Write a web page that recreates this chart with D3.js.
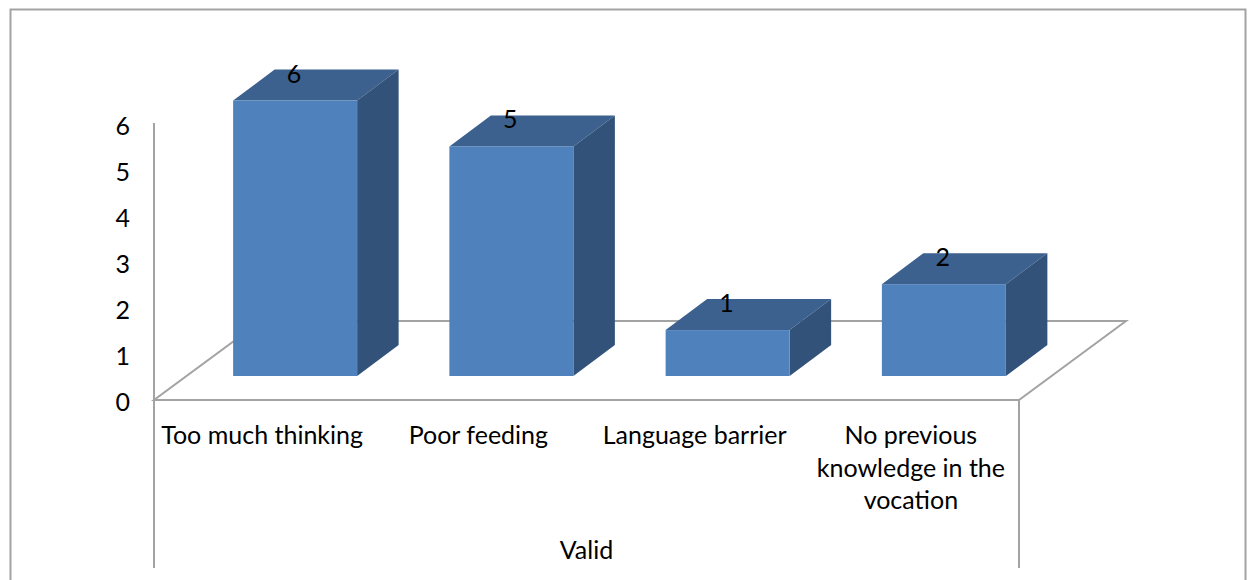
<!DOCTYPE html>
<html>
<head>
<meta charset="utf-8">
<script src="https://cdn.jsdelivr.net/npm/d3@7"></script>
<style>
  html, body { margin: 0; padding: 0; background: #fff; }
  svg { display: block; }
  text { font-family: Lato, "Open Sans", sans-serif; fill: #000; }
</style>
</head>
<body>
<div id="chart"></div>
<script>
const categories = ["Too much thinking", "Poor feeding", "Language barrier", "No previous knowledge in the vocation"];
const values = [6, 5, 1, 2];
const yTicks = [0, 1, 2, 3, 4, 5, 6];
const groupLabel = "Valid";

const width = 1249, height = 580;

// floor of the fake 3d box
const floorLeft = 154, floorRight = 1019, floorY = 400;
const wallDx = 107, wallDy = -79;
// bar sits a bit inside the floor, and has its own depth
const insetDx = 33, insetDy = -24;
const depthDx = 41.5, depthDy = -31;

const lineColor = "#a3a3a3";
const fontSize = "25px";

const svg = d3.select("#chart").append("svg")
  .attr("width", width)
  .attr("height", height);

// outer frame, bottom is cut off by the picture
svg.append("path")
  .attr("d", "M10.5,580V9.5H1245.5V580")
  .attr("fill", "none")
  .attr("stroke", lineColor)
  .attr("stroke-width", 2);

const x = d3.scaleBand()
  .domain(categories)
  .range([floorLeft, floorRight])
  .padding(0);

const barWidth = 124;

const y = d3.scaleLinear()
  .domain([0, 6])
  .range([floorY, 124.5]);

// floor and back edge
const floor = svg.append("g")
  .attr("fill", "none")
  .attr("stroke", lineColor)
  .attr("stroke-width", 2);

floor.append("path")
  .attr("d", `M${floorLeft},${floorY}L${floorRight},${floorY}L${floorRight + wallDx},${floorY + wallDy}L${floorLeft + wallDx},${floorY + wallDy}Z`);

// y axis line and category separators
floor.append("path")
  .attr("d", `M${floorLeft},123V568M${floorRight},${floorY}V568`);

const yAxis = d3.axisLeft(y)
  .tickValues(yTicks)
  .tickFormat(d3.format("d"))
  .tickSize(0)
  .tickPadding(24);

svg.append("g")
  .attr("transform", `translate(${floorLeft},2)`)
  .call(yAxis)
  .call(g => g.select(".domain").remove())
  .selectAll("text")
  .style("font-family", "Lato, 'Open Sans', sans-serif")
  .style("font-size", fontSize);

const barX = d => x(d) + x.bandwidth() / 2 + insetDx - barWidth / 2;

const bars = svg.selectAll(".bar")
  .data(categories)
  .enter().append("g")
  .attr("class", "bar");

// top face
bars.append("path")
  .attr("fill", "#3d618e")
  .attr("d", (d, i) => {
    const l = barX(d), t = y(values[i]) + insetDy;
    return `M${l},${t}l${depthDx},${depthDy}h${barWidth}l${-depthDx},${-depthDy}Z`;
  });

// side face
bars.append("path")
  .attr("fill", "#325279")
  .attr("d", (d, i) => {
    const r = barX(d) + barWidth, t = y(values[i]) + insetDy, b = y(0) + insetDy;
    return `M${r},${t}l${depthDx},${depthDy}V${b + depthDy}L${r},${b}Z`;
  });

// front face
bars.append("rect")
  .attr("fill", "#4f81bd")
  .attr("x", d => barX(d))
  .attr("y", (d, i) => y(values[i]) + insetDy)
  .attr("width", barWidth)
  .attr("height", (d, i) => y(0) - y(values[i]));

// value labels
bars.append("text")
  .attr("x", d => barX(d) + barWidth / 2 - 1)
  .attr("y", (d, i) => y(values[i]) + insetDy - 18)
  .attr("text-anchor", "middle")
  .style("font-size", fontSize)
  .text((d, i) => values[i]);

// category labels, wrapped by hand like the original
const catLines = d => d.startsWith("No previous") ? ["No previous", "knowledge in the", "vocation"] : [d];

svg.selectAll(".cat")
  .data(categories)
  .enter().append("text")
  .attr("class", "cat")
  .attr("text-anchor", "middle")
  .style("font-size", fontSize)
  .each(function (d) {
    d3.select(this).selectAll("tspan")
      .data(catLines(d))
      .enter().append("tspan")
      .attr("x", x(d) + x.bandwidth() / 2)
      .attr("y", (l, i) => 444 + i * 32.5)
      .text(l => l);
  });

svg.append("text")
  .attr("x", (floorLeft + floorRight) / 2)
  .attr("y", 559)
  .attr("text-anchor", "middle")
  .style("font-size", fontSize)
  .text(groupLabel);
</script>
</body>
</html>
